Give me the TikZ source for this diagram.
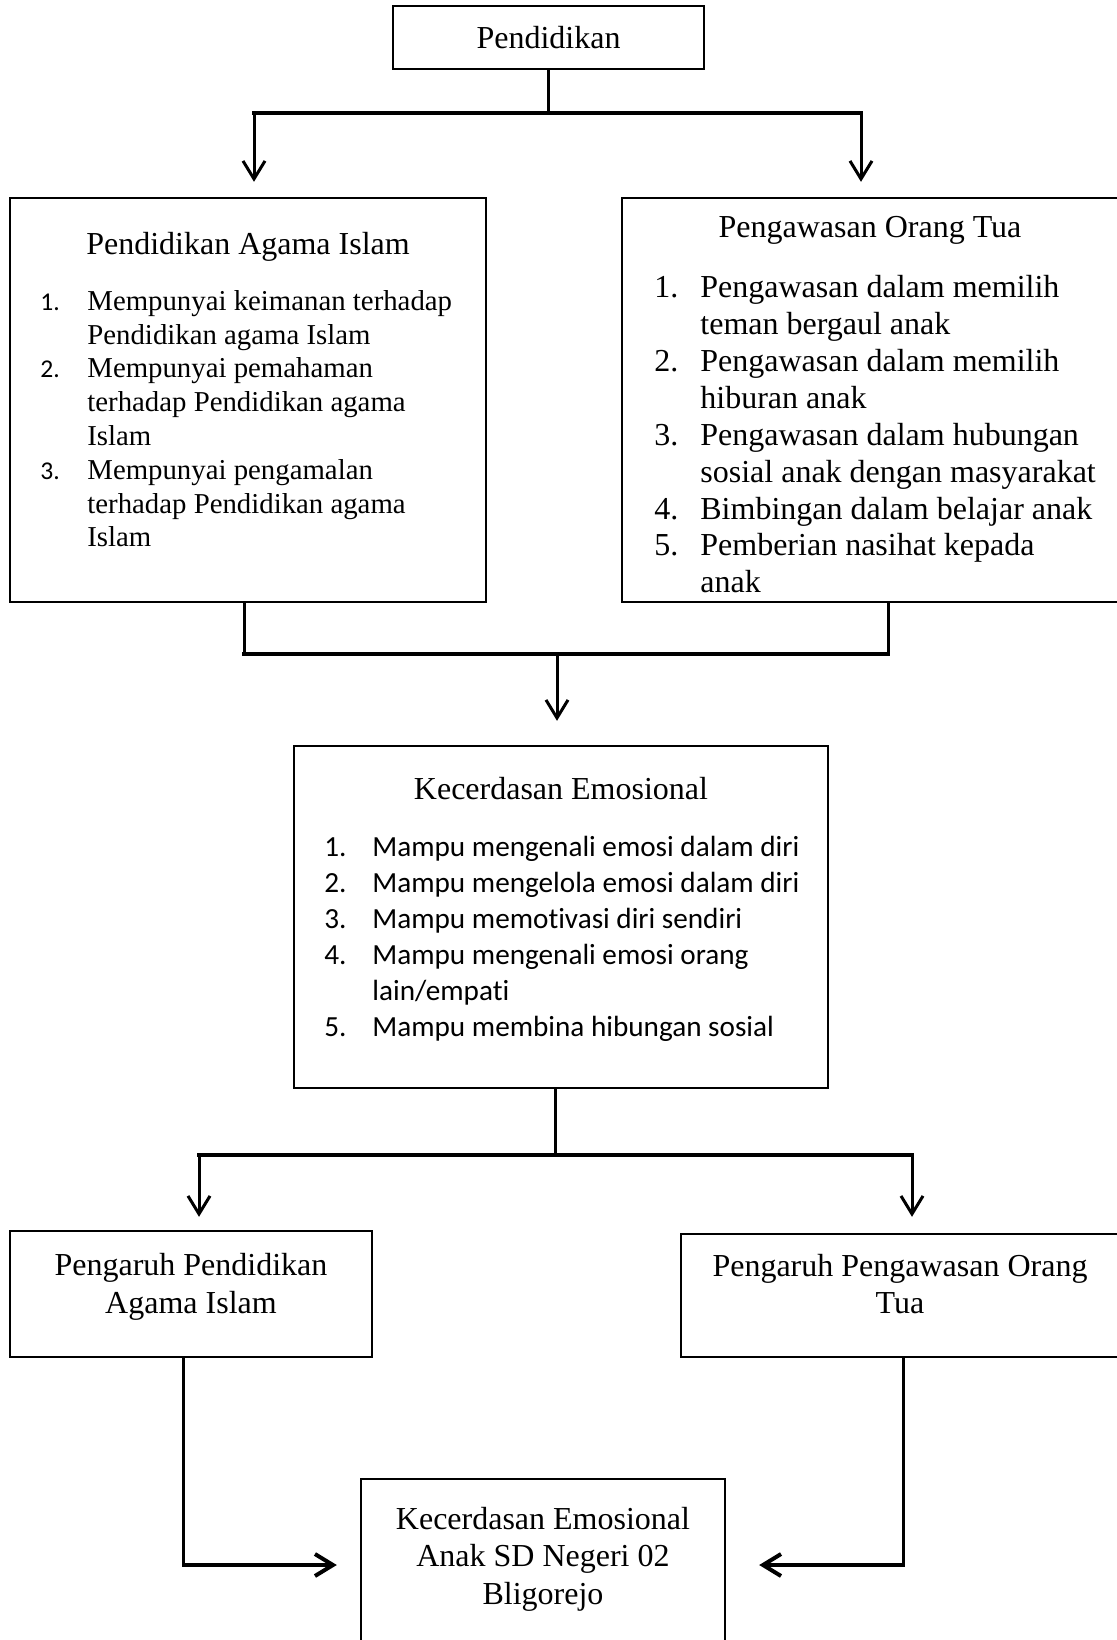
\documentclass[tikz,border=0pt]{standalone}
\usepackage{fontspec}
\setmainfont{Liberation Serif}
\newfontfamily\calibri[Ligatures=NoCommon]{Carlito}
\usetikzlibrary{arrows.meta}
\newcommand{\listno}[2]{\makebox[#1][l]{#2}}

\begin{document}
\begin{tikzpicture}[x=0.5pt, y=-0.5pt,
	box/.style={draw, line width=1.2pt, inner sep=0pt},
	title/.style={font=\fontsize{16}{18.8}\selectfont, align=center, inner sep=0pt},
	list/.style={align=left, inner sep=0pt, anchor=north west},
	link/.style={line width=1.5pt, line cap=rect},
	bar/.style={line width=2pt, line cap=rect},
	arrow/.style={line width=1.5pt, -{Straight Barb[length=9pt, width=11pt]}}]
	\useasboundingbox (0,0) rectangle (1117,1640);

	% boxes
	\node[box, minimum width=155.5pt, minimum height=31.5pt, font=\fontsize{16}{18.8}\selectfont] (pend) at (548.5,37.5) {Pendidikan};
	\node[box, minimum width=238pt, minimum height=202pt] (pai) at (248,400) {};
	\node[box, minimum width=251.5pt, minimum height=202pt] (pot) at (873.5,400) {};
	\node[box, minimum width=267pt, minimum height=171pt] (ke) at (561,917) {};
	\node[box, minimum width=181pt, minimum height=63pt] (ppai) at (191,1294) {};
	\node[box, minimum width=222pt, minimum height=61.5pt] (ppot) at (903,1295.5) {};
	\node[box, minimum width=182pt, minimum height=85.5pt] (kesd) at (543,1564.5) {};

	% titles
	\node[title] (paititle) at (248,247) {Pendidikan Agama Islam};
	\node[title] (pottitle) at (870,230) {Pengawasan Orang Tua};
	\node[title] (ketitle) at (561,789) {Kecerdasan Emosional};
	\node[title] (ppaitext) at (191,1287) {Pengaruh Pendidikan\\Agama Islam};
	\node[title] (ppottext) at (900,1284) {Pengaruh Pengawasan Orang\\Tua};
	\node[title] (kesdtext) at (543,1559) {Kecerdasan Emosional\\Anak SD Negeri 02\\Bligorejo};

	% lists
	\node[list, font=\fontsize{14.4}{16.9}\selectfont] (pailist) at (40,290) {%
		\listno{23.5pt}{\calibri\fontsize{12.8}{16.9}\selectfont 1.}Mempunyai keimanan terhadap\\
		\hspace*{23.5pt}Pendidikan agama Islam\\
		\listno{23.5pt}{\calibri\fontsize{12.8}{16.9}\selectfont 2.}Mempunyai pemahaman\\
		\hspace*{23.5pt}terhadap Pendidikan agama\\
		\hspace*{23.5pt}Islam\\
		\listno{23.5pt}{\calibri\fontsize{12.8}{16.9}\selectfont 3.}Mempunyai pengamalan\\
		\hspace*{23.5pt}terhadap Pendidikan agama\\
		\hspace*{23.5pt}Islam};
	\node[list, font=\fontsize{16}{18.45}\selectfont] (potlist) at (654,275) {%
		\listno{23pt}{1.}Pengawasan dalam memilih\\
		\hspace*{23pt}teman bergaul anak\\
		\listno{23pt}{2.}Pengawasan dalam memilih\\
		\hspace*{23pt}hiburan anak\\
		\listno{23pt}{3.}Pengawasan dalam hubungan\\
		\hspace*{23pt}sosial anak dengan masyarakat\\
		\listno{23pt}{4.}Bimbingan dalam belajar anak\\
		\listno{23pt}{5.}Pemberian nasihat kepada\\
		\hspace*{23pt}anak};
	\node[list, font=\calibri\fontsize{14.6}{18}\selectfont] (kelist) at (324,836) {%
		\listno{24pt}{1.}Mampu mengenali emosi dalam diri\\
		\listno{24pt}{2.}Mampu mengelola emosi dalam diri\\
		\listno{24pt}{3.}Mampu memotivasi diri sendiri\\
		\listno{24pt}{4.}Mampu mengenali emosi orang\\
		\hspace*{24pt}lain/empati\\
		\listno{24pt}{5.}Mampu membina hibungan sosial};

	% top split
	\coordinate (topL) at (254,113);
	\coordinate (topR) at (861,113);
	\draw[link] (pend.south) -- (pend.south |- topL);
	\draw[bar] (topL) -- (topR);
	\draw[arrow, shorten >=7.5pt] (topL) -- (topL |- pai.north);
	\draw[arrow, shorten >=7.5pt] (topR) -- (topR |- pot.north);

	% merge
	\coordinate (midL) at (244,654);
	\coordinate (midR) at (888,654);
	\coordinate (midC) at (557,654);
	\draw[link] (pai.south -| midL) -- (midL);
	\draw[link] (pot.south -| midR) -- (midR);
	\draw[bar] (midL) -- (midR);
	\draw[arrow, shorten >=12pt] (midC) -- (midC |- ke.north);

	% bottom split
	\coordinate (lowL) at (199,1155);
	\coordinate (lowR) at (912,1155);
	\coordinate (lowC) at (555,1155);
	\draw[link] (ke.south -| lowC) -- (lowC);
	\draw[bar] (lowL) -- (lowR);
	\draw[arrow, shorten >=6.5pt] (lowL) -- (lowL |- ppai.north);
	\draw[arrow, shorten >=8pt] (lowR) -- (lowR |- ppot.north);

	% into result
	\coordinate (endL) at (183,1565);
	\coordinate (endR) at (903,1565);
	\draw[link] (ppai.south -| endL) -- (endL);
	\draw[link] (ppot.south -| endR) -- (endR);
	\draw[arrow, line width=2pt, shorten >=11.5pt] (endL) -- (endL -| kesd.west);
	\draw[arrow, line width=2pt, shorten >=16.5pt] (endR) -- (endR -| kesd.east);

\end{tikzpicture}
\end{document}
